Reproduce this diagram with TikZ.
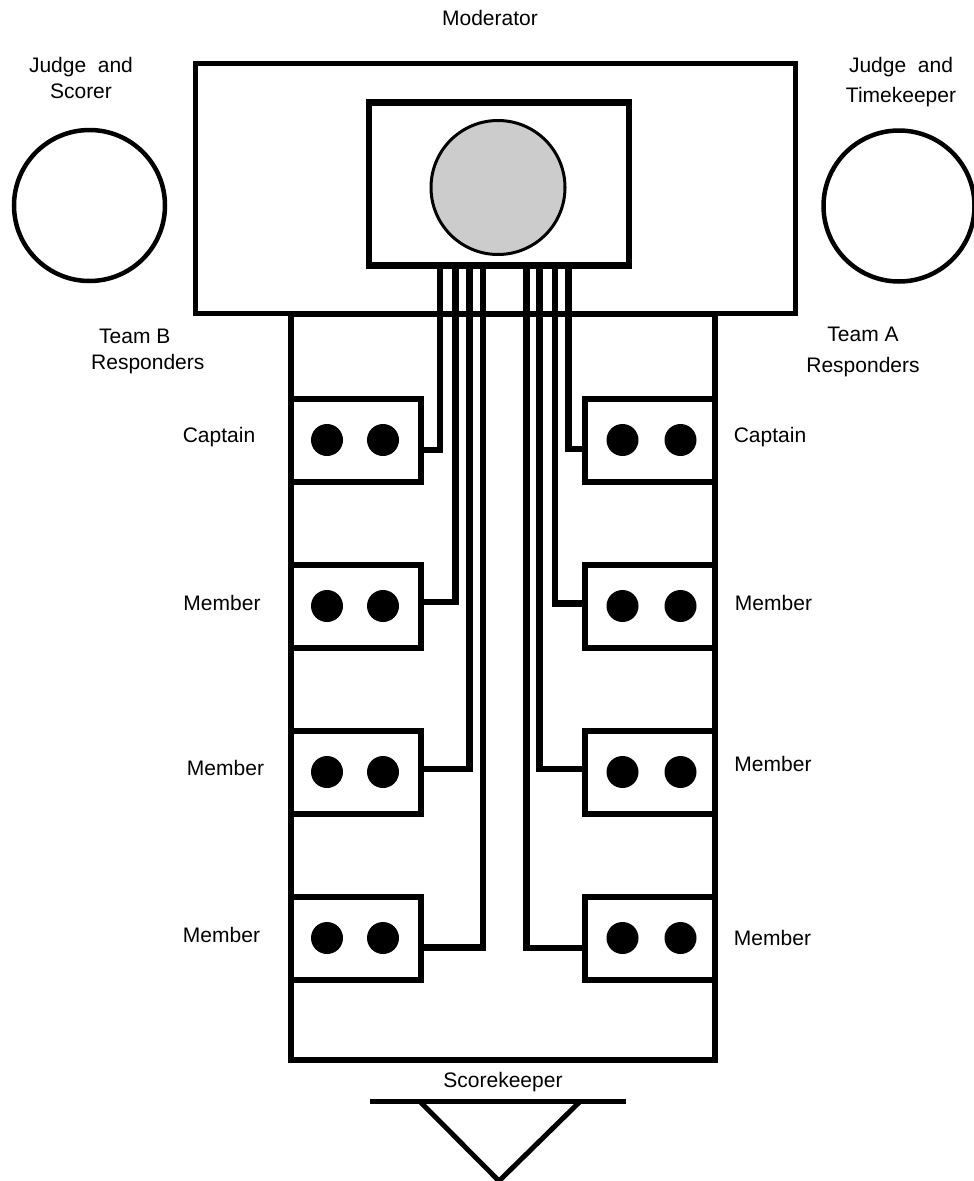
\documentclass[tikz,border=0pt]{standalone}
\usepackage{fontspec}
\setmainfont{Liberation Sans}
\usetikzlibrary{positioning, calc}

\begin{document}
\begin{tikzpicture}[
  x=1pt, y=-1pt,
  node distance=77pt and 157.5pt,
  lbl/.style={font=\fontsize{21}{26}\selectfont, inner sep=0pt, align=center},
  judge/.style={draw, circle, line width=4.5pt, minimum size=151pt, inner sep=0pt},
  buzzer/.style={draw, fill=white, line width=6pt, minimum width=130pt, minimum height=83pt, inner sep=0pt},
  wire/.style={line width=6.5pt}
]
  \useasboundingbox (0,0) rectangle (974,1181);

  % team table and moderator's table
  \node[draw, line width=6pt, minimum width=424pt, minimum height=746.5pt] (teamtable) at (502.5,686.75) {};
  \node[draw, line width=5pt, minimum width=600pt, minimum height=250pt] (modtable) at (495.5,188.5) {};
  \node[draw, line width=6.5pt, minimum width=260pt, minimum height=163pt] (console) at (499,184) {};
  \node[draw, circle, line width=3pt, fill=black!20, minimum size=134pt] (lectern) at (498,187.5) {};

  % judges
  \node[judge] (scorer) at (89.5,205.5) {};
  \node[judge] (timer) at (899,206) {};

  % responder boxes
  \node[buzzer] (capB) at (356,440) {};
  \node[buzzer, below=of capB] (memB1) {};
  \node[buzzer, below=of memB1] (memB2) {};
  \node[buzzer, below=of memB2] (memB3) {};
  \node[buzzer, right=of capB] (capA) {};
  \node[buzzer, below=of capA] (memA1) {};
  \node[buzzer, below=of memA1] (memA2) {};
  \node[buzzer, below=of memA2] (memA3) {};

  \foreach \b/\lx/\rx in {capB/-29/27, memB1/-29/27, memB2/-29/27, memB3/-29/27,
                          capA/-27/31, memA1/-27/31, memA2/-27/31, memA3/-27/31} {
    \fill ($(\b.center)+(\lx,0)$) circle[radius=16pt];
    \fill ($(\b.center)+(\rx,0)$) circle[radius=16pt];
  }

  % wires from the console
  \foreach \b/\side/\dx/\dy in {capB/east/-59/10, memB1/east/-43.5/-4, memB2/east/-29.5/-3, memB3/east/-16/9.5,
                                capA/west/69.5/9, memA1/west/56/-2.5, memA2/west/40.5/-3, memA3/west/27.5/10}
    \draw[wire] ($(console.south)+(\dx,0)$) |- ($(\b.\side)+(0,\dy)$);

  % labels
  \node[lbl, anchor=north] (modlbl) at (490,10) {Moderator};
  \node[lbl, anchor=north] (scorerlbl) at (81,57) {Judge\ \ and\\Scorer};
  \node[lbl, anchor=north] (timerlbl) at (901,57) {Judge\ \ and\\[4pt]Timekeeper};
  \node[lbl, anchor=north west, align=left] (teamBlbl) at (91,329) {\hspace*{8pt}Team B\\Responders};
  \node[lbl, anchor=north] (teamAlbl) at (863,327) {Team A\\[5pt]Responders};

  \node[lbl, anchor=base] (capBlbl) at (219,442) {Captain};
  \node[lbl, anchor=base] (memB1lbl) at (222,610.5) {Member};
  \node[lbl, anchor=base] (memB2lbl) at (225.5,775.5) {Member};
  \node[lbl, anchor=base] (memB3lbl) at (221.5,942.5) {Member};
  \node[lbl, anchor=base] (capAlbl) at (770,442) {Captain};
  \node[lbl, anchor=base] (memA1lbl) at (773.5,610.5) {Member};
  \node[lbl, anchor=base] (memA2lbl) at (773,771.5) {Member};
  \node[lbl, anchor=base] (memA3lbl) at (772.5,945.5) {Member};

  % scorekeeper's desk
  \node[lbl, anchor=base] (keeper) at (503,1087) {Scorekeeper};
  \draw[line width=5pt] (370,1101.5) -- (626,1101.5);
  \draw[line width=5pt] (420,1101.5) -- (499,1181) -- (580,1101.5);
\end{tikzpicture}
\end{document}
